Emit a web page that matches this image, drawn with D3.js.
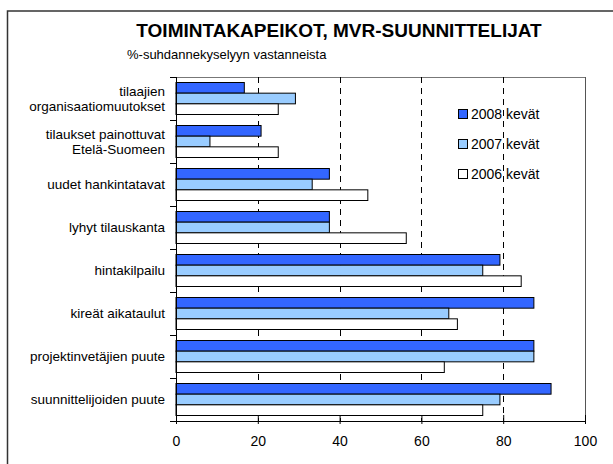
<!DOCTYPE html>
<html>
<head>
<meta charset="utf-8">
<script src="https://cdnjs.cloudflare.com/ajax/libs/d3/7.8.5/d3.min.js"></script>
<style>
body { margin: 0; background: #fff; }
svg text { font-family: Arial, "Liberation Sans", sans-serif; fill: #000; }
</style>
</head>
<body>
<div id="chart"></div>
<script>
var categories = [
  ["tilaajien", "organisaatiomuutokset"],
  ["tilaukset painottuvat", "Etelä-Suomeen"],
  ["uudet hankintatavat"],
  ["lyhyt tilauskanta"],
  ["hintakilpailu"],
  ["kireät aikataulut"],
  ["projektinvetäjien puute"],
  ["suunnittelijoiden puute"]
]
var seriesNames = ["2008 kevät", "2007 kevät", "2006 kevät"]
var seriesColors = ["#3366ff", "#99ccff", "#ffffff"]
var values2008 = [16.7, 20.8, 37.5, 37.5, 79.2, 87.5, 87.5, 91.7]
var values2007 = [29.2, 8.3, 33.3, 37.5, 75.0, 66.7, 87.5, 79.2]
var values2006 = [25.0, 25.0, 46.9, 56.3, 84.4, 68.8, 65.6, 75.0]
var xTicks = [0, 20, 40, 60, 80, 100]

var seriesValues = [values2008, values2007, values2006]

var width = 613, height = 464
var plot = { left: 176, right: 585, top: 77, bottom: 421 }

var svg = d3.select("#chart").append("svg")
  .attr("width", width)
  .attr("height", height)

/* outer frame */
svg.append("rect")
  .attr("x", 7.5)
  .attr("y", 11)
  .attr("width", 640)
  .attr("height", 500)
  .attr("fill", "#fff")
  .attr("stroke", "#333")
  .attr("stroke-width", 1.5)

svg.append("text")
  .attr("x", 339)
  .attr("y", 37)
  .attr("text-anchor", "middle")
  .style("font-size", "19px")
  .style("font-weight", "bold")
  .text("TOIMINTAKAPEIKOT, MVR-SUUNNITTELIJAT")

svg.append("text")
  .attr("x", 127)
  .attr("y", 59)
  .style("font-size", "13px")
  .text("%-suhdannekyselyyn vastanneista")

var x = d3.scaleLinear()
  .domain([0, 100])
  .range([plot.left, plot.right])

var y = d3.scaleBand()
  .domain(d3.range(categories.length))
  .range([plot.top, plot.bottom])

var ySub = d3.scaleBand()
  .domain(d3.range(seriesNames.length))
  .range([5.5, y.bandwidth() - 5.5])

/* plot border top/right */
svg.append("line")
  .attr("x1", plot.left).attr("x2", plot.right)
  .attr("y1", plot.top + 0.5).attr("y2", plot.top + 0.5)
  .style("stroke", "#777")
svg.append("line")
  .attr("x1", plot.right + 0.5).attr("x2", plot.right + 0.5)
  .attr("y1", plot.top).attr("y2", plot.bottom)
  .style("stroke", "#555")

/* dashed grid */
xTicks.filter(function(d) { return d > 0 && d < 100 }).forEach(function(t) {
  svg.append("line")
    .attr("x1", Math.round(x(t)) + 0.5)
    .attr("x2", Math.round(x(t)) + 0.5)
    .attr("y1", plot.top)
    .attr("y2", plot.bottom)
    .style("stroke", "#000")
    .style("stroke-dasharray", "6,5")
})

/* bars */
seriesValues.forEach(function(vals, s) {
  svg.selectAll(".bar" + s)
    .data(vals)
    .enter().append("rect")
    .attr("x", x(0))
    .attr("y", function(d, i) { return y(i) + ySub(s) })
    .attr("width", function(d) { return x(d) - x(0) })
    .attr("height", ySub.bandwidth())
    .attr("fill", seriesColors[s])
    .attr("stroke", "#000")
    .attr("stroke-width", 1)
})

/* x axis */
var xAxis = svg.append("g")
  .attr("transform", "translate(0," + plot.bottom + ")")
  .call(d3.axisBottom(x).tickValues(xTicks).tickSizeInner(-6).tickSizeOuter(0).tickPadding(15))
xAxis.selectAll("line").attr("y2", -6).attr("y1", 3)
xAxis.selectAll("text").style("font-size", "14px")
xAxis.select(".domain").attr("stroke", "#000")

/* y axis: ticks at category boundaries */
var yAxis = svg.append("g")
yAxis.append("line")
  .attr("x1", plot.left + 0.5).attr("x2", plot.left + 0.5)
  .attr("y1", plot.top).attr("y2", plot.bottom)
  .style("stroke", "#000")
d3.range(categories.length + 1).forEach(function(i) {
  var yy = i < categories.length ? y(i) : plot.bottom
  yAxis.append("line")
    .attr("x1", plot.left - 6).attr("x2", plot.left)
    .attr("y1", yy + 0.5).attr("y2", yy + 0.5)
    .style("stroke", "#000")
})

categories.forEach(function(lines, i) {
  var cy = y(i) + y.bandwidth() / 2
  var lh = 15
  lines.forEach(function(line, j) {
    svg.append("text")
      .attr("x", 165)
      .attr("y", cy + (j - (lines.length - 1) / 2) * lh)
      .attr("dy", "0.35em")
      .attr("text-anchor", "end")
      .style("font-size", "13.5px")
      .text(line)
  })
})

/* legend */
seriesNames.forEach(function(name, s) {
  var ly = 114 + s * 30
  svg.append("rect")
    .attr("x", 458.5)
    .attr("y", ly - 4.5)
    .attr("width", 9)
    .attr("height", 9)
    .attr("fill", seriesColors[s])
    .attr("stroke", "#000")
  svg.append("text")
    .attr("x", 471)
    .attr("y", ly)
    .attr("dy", "0.36em")
    .style("font-size", "14px")
    .text(name)
})
</script>
</body>
</html>
